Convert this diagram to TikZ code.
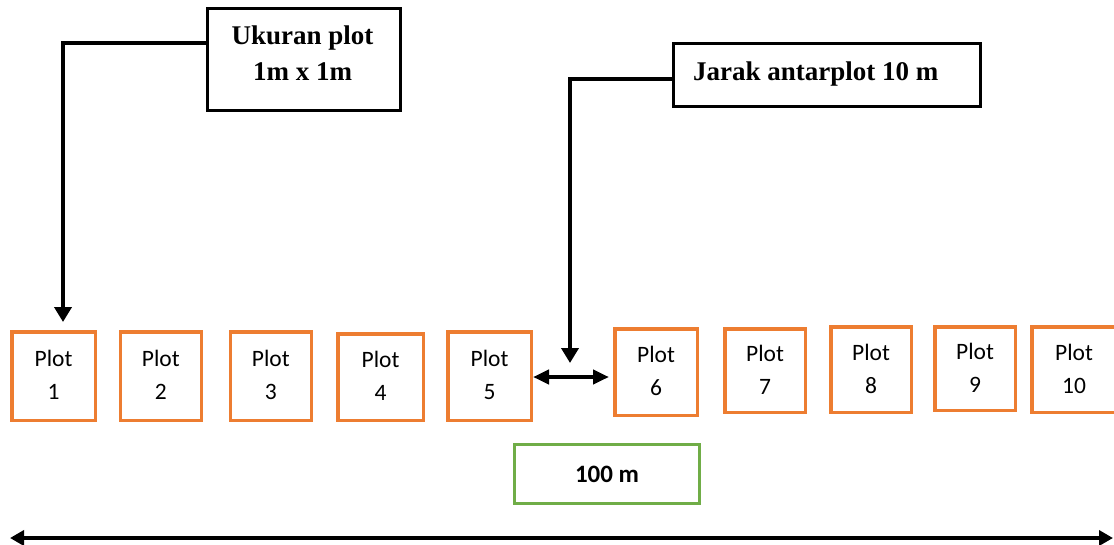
\documentclass[tikz,border=0pt]{standalone}
\usepackage{fontspec}
\setmainfont{Liberation Serif}
\newfontfamily\calfont{Carlito}
\usetikzlibrary{arrows.meta}
\definecolor{plotorange}{HTML}{ED7D31}
\definecolor{plotgreen}{HTML}{70AD47}
\tikzset{
  plotbox/.style={draw=plotorange, line width=3.5pt, rectangle, inner sep=0pt},
  plottext/.style={font=\calfont\fontsize{23.5}{28}\selectfont, inner sep=0pt, anchor=base},
  notebox/.style={draw=black, line width=3pt, rectangle, inner sep=0pt},
  notetext/.style={font=\bfseries\fontsize{27}{32}\selectfont, inner sep=0pt},
  greenbox/.style={draw=plotgreen, line width=3pt, rectangle, inner sep=0pt,
    font=\calfont\bfseries\fontsize{25}{30}\selectfont},
  conn/.style={line width=4pt, -{Triangle[length=15pt,width=17pt]}},
  gapconn/.style={line width=4pt, {Triangle[length=16pt,width=14pt]}-{Triangle[length=16pt,width=14pt]}},
  spanconn/.style={line width=4.5pt, {Triangle[length=14pt,width=15pt]}-{Triangle[length=14pt,width=15pt]}}
}
\begin{document}
\begin{tikzpicture}[x=1pt,y=-1pt]
\clip (0,0) rectangle (1114,544);
\useasboundingbox (0,0) rectangle (1114,544);
% plots
\foreach \i/\cx/\cy/\w/\h in {
  1/53.5/376/83.5/88.5,
  2/160.75/376/81/88.5,
  3/270.75/376/81/88.5,
  4/380.5/377/85.5/86.5,
  5/489.5/376/83.5/88.5,
  6/656/372/82.5/86.5,
  7/765/370.5/80.5/83.5,
  8/871/369.5/80.5/85.5,
  9/975/368.5/80.5/83.5,
  10/1074/369.5/84.5/85.5}{
  \node[plotbox, minimum width=\w pt, minimum height=\h pt] (p\i) at (\cx,\cy) {};
  \node[plottext] (pt\i) at ({\cx},{\cy-9.5}) {Plot};
  \node[plottext] (pn\i) at ({\cx},{\cy+23.5}) {\i};
}
% note boxes
\node[notebox, minimum width=193pt, minimum height=102pt] (ubox) at (304,59.5) {};
\node[notetext, anchor=base] (ut1) at (302.5,44) {Ukuran plot};
\node[notetext, anchor=base] (ut2) at (302.5,80) {1m x 1m};
\node[notebox, minimum width=307pt, minimum height=63pt] (jbox) at (827,75) {};
\node[notetext, anchor=base west] (jt) at (693,80) {Jarak antarplot 10 m};
\node[greenbox, minimum width=185pt, minimum height=59pt] (gbox) at (607,474) {100 m};
% connectors
\coordinate (u1) at (63,43);
\coordinate (u2) at (63,322);
\draw[conn] (ubox.west |- u1) -- (u1) -- (u2);
\coordinate (j1) at (570,79);
\coordinate (j2) at (570,363);
\draw[conn] (jbox.west |- j1) -- (j1) -- (j2);
\coordinate (d1) at (0,377);
\draw[gapconn, shorten >=4pt] (p5.east |- d1) -- (p6.west |- d1);
\coordinate (s1) at (10,538);
\coordinate (s2) at (1113,538);
\draw[spanconn] (s1) -- (s2);
\end{tikzpicture}
\end{document}
